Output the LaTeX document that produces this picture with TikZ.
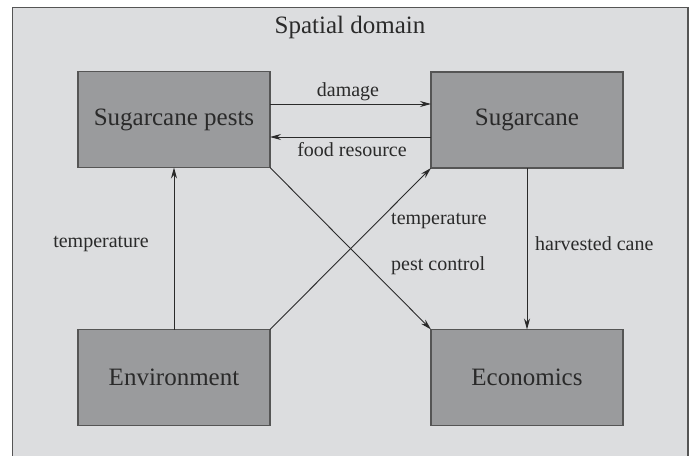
\documentclass[tikz,border=0pt]{standalone}
\usepackage{fontspec}
\setmainfont{Liberation Serif}
\usetikzlibrary{arrows.meta}
\definecolor{bgc}{HTML}{DCDDDF}
\definecolor{boxc}{HTML}{9A9B9D}
\definecolor{linec}{HTML}{555555}
\definecolor{txtc}{HTML}{2A2A2A}
\tikzset{
  blk/.style={draw=linec, line width=1.4pt, fill=boxc, minimum width=192pt, minimum height=96pt, inner sep=0pt, outer sep=0pt, text=txtc, font=\fontsize{25}{30}\selectfont},
  lbl/.style={text=txtc, font=\fontsize{20}{24}\selectfont, inner sep=0pt},
  arr/.style={draw=txtc, line width=0.9pt, -{Stealth[length=11pt,width=6pt]}}
}
\begin{document}
\begin{tikzpicture}[x=1pt,y=-1pt]
\useasboundingbox (0,0) rectangle (690,455);
\fill[white] (0,0) rectangle (690,455);
\begin{scope}
\clip (0,0) rectangle (690,455);
\draw[linec, line width=1.4pt, fill=bgc] (12.5,7.5) rectangle (688,470);
\end{scope}
\node[lbl, font=\fontsize{25}{30}\selectfont] (title) at (350,27) {Spatial domain};
\node[blk] (pests) at (174,119.5) {Sugarcane pests};
\node[blk] (cane) at (527,120) {Sugarcane};
\node[blk] (env) at (174,377.5) {Environment};
\node[blk] (econ) at (527,377.5) {Economics};
\draw[arr] (pests.east |- 0,104) -- (cane.west |- 0,104);
\draw[arr] (cane.west |- 0,137) -- (pests.east |- 0,137);
\draw[arr] (env.north) -- (pests.south);
\draw[arr] (env.north east) -- (cane.south west);
\draw[arr] (pests.south east) -- (econ.north west);
\draw[arr] (cane.south) -- (econ.north);
\node[lbl] (ldam) at (348,92) {damage};
\node[lbl] (lfood) at (352,150) {food resource};
\node[lbl] (ltemp1) at (101,244) {temperature};
\node[lbl, anchor=west] (ltemp2) at (391,221) {temperature};
\node[lbl, anchor=west] (lpest) at (391,266) {pest control};
\node[lbl, anchor=west] (lharv) at (535,244) {harvested cane};
\end{tikzpicture}
\end{document}
